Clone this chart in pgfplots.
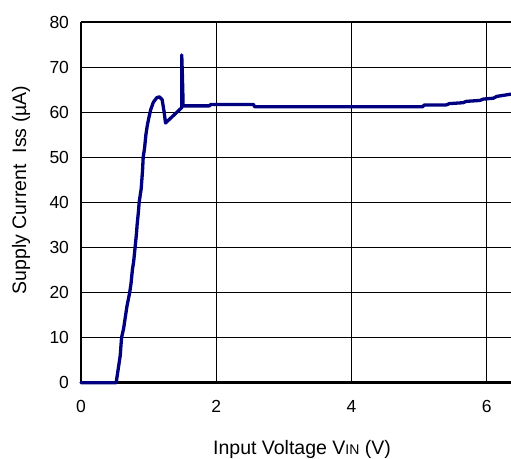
\documentclass[border=0pt]{standalone}
\usepackage{fontspec}
\setmainfont{Liberation Sans}
\usepackage{pgfplots}
\pgfplotsset{compat=1.18}
\definecolor{navyline}{HTML}{000080}
\begin{document}
\begin{tikzpicture}
\begin{axis}[
  name=ax,
  width=430bp, height=360.7bp, scale only axis,
  xmin=0, xmax=6.36, ymin=0, ymax=80,
  xtick={0,2,4,6}, ytick={0,10,...,80},
  grid=major, major grid style={black, line width=0.9bp},
  major tick length=0pt,
  axis line style={draw=none},
  clip=false,
  /pgf/number format/assume math mode=true,
  tick label style={font=\fontsize{17.5bp}{21bp}\selectfont},
  xticklabel style={yshift=-14bp},
  yticklabel style={xshift=-8.5bp},
  label style={font=\fontsize{19.5bp}{23bp}\selectfont},
  xlabel={Input Voltage V{\fontsize{14bp}{15bp}\selectfont IN} (V)},
  xlabel style={at={(axis description cs:0.514,-0.2004)}, anchor=base},
  ylabel={Supply Current~~Iss (µA)},
  ylabel style={at={(axis description cs:-0.1279,0.5344)}, anchor=base, rotate=0},
]
\draw[black, line width=1.6bp] (rel axis cs:0,0) -- (rel axis cs:0,1);
\draw[black, line width=1.6bp] (rel axis cs:0,1) -- (rel axis cs:1,1);
\draw[black, line width=2.4bp] (rel axis cs:0,0) -- (rel axis cs:1,0);
\addplot[navyline, line width=3.3bp, line join=round, line cap=round] coordinates {
(0,0) (0.52,0) (0.54,2) (0.56,4) (0.58,6) (0.60,10) (0.63,12) (0.65,14)
(0.68,17) (0.72,20) (0.74,22) (0.76,25) (0.78,27) (0.80,30) (0.82,33)
(0.83,35) (0.85,38) (0.86,40) (0.89,43) (0.90,45) (0.91,47) (0.92,50)
(0.94,52) (0.96,55) (0.98,57) (1.00,58.5) (1.03,60.5) (1.07,62.2)
(1.12,63.2) (1.16,63.4) (1.20,62.8) (1.23,60) (1.25,57.6) (1.37,59.3)
(1.49,61.0) (1.49,72.7) (1.50,68) (1.51,62) (1.51,61.4) (1.90,61.4)
(1.92,61.7) (2.55,61.7) (2.57,61.2) (5.05,61.2) (5.08,61.6) (5.40,61.6)
(5.45,61.9) (5.65,62.1) (5.70,62.4) (5.90,62.6) (5.95,62.9) (6.10,63.1)
(6.15,63.5) (6.36,64.0)
};
\end{axis}
\pgfresetboundingbox
\path[use as bounding box] ([xshift=-81bp,yshift=-76.3bp]ax.south west) rectangle ([yshift=22bp]ax.north east);
\end{tikzpicture}
\end{document}
